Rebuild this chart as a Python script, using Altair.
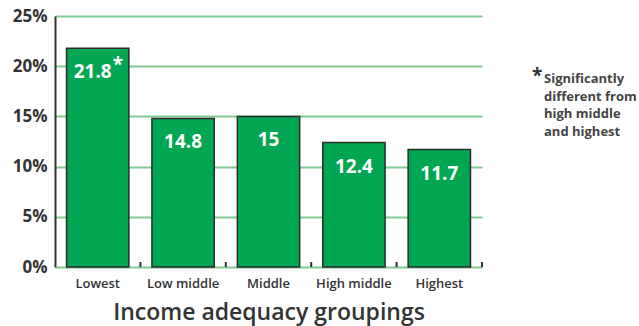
import altair as alt
import pandas as pd

# Share of each income adequacy group (percent)
groups = ["Lowest", "Low middle", "Middle", "High middle", "Highest"]
rates = [21.8, 14.8, 15, 12.4, 11.7]
marks = ["*", "", "", "", ""]
y_ticks = [0, 5, 10, 15, 20, 25]
x_title = "Income adequacy groupings"
note_star = "*"
note_lines = ["Significantly", "different from", "high middle", "and highest"]

df = pd.DataFrame({"group": groups, "rate": rates, "mark": marks})
# small separators at the right edge of every category cell
edges_df = pd.DataFrame({"edge": list(range(1, len(groups) + 1)), "lo": 0.0, "hi": 0.5})
note_df = pd.DataFrame({"n": [0]})

FONT = "Open Sans"
INK = "#333333"
BAR = "#00a651"
GRID = "#80cb94"

x = alt.X(
    "group:N",
    sort=groups,
    title=x_title,
    scale=alt.Scale(paddingInner=0.27, paddingOuter=0.135),
    axis=alt.Axis(
        labelAngle=0,
        domain=False,
        grid=False,
        ticks=False,
        labelPadding=10,
        labelFont=FONT,
        labelFontSize=13,
        labelFontWeight=600,
        labelColor=INK,
        titleFont=FONT,
        titleFontSize=23,
        titleFontWeight=600,
        titleColor=INK,
        titlePadding=11,
    ),
)
y = alt.Y(
    "rate:Q",
    title=None,
    scale=alt.Scale(domain=[0, 25], nice=False),
    axis=alt.Axis(
        values=y_ticks,
        labelExpr="datum.value + '%'",
        ticks=False,
        domainColor=INK,
        domainWidth=2,
        gridColor=GRID,
        gridWidth=2,
        gridOpacity=1,
        labelPadding=8,
        labelFont=FONT,
        labelFontSize=17,
        labelFontWeight="bold",
        labelColor=INK,
    ),
)
x_plain = alt.X("group:N", sort=groups)

base = alt.Chart(df)

bars = base.mark_bar(color=BAR, stroke="#2b2b2b", strokeWidth=1.5).encode(x=x, y=y)

text_style = dict(font=FONT, fontSize=19, fontWeight="bold", color="white", baseline="alphabetic")

plain_labels = base.transform_filter("datum.mark == ''").mark_text(
    align="center", dy=30, **text_style
).encode(x=x_plain, y="rate:Q", text=alt.Text("rate:Q"))

star_labels = base.transform_filter("datum.mark != ''").mark_text(
    align="center", dx=-5, dy=30, **text_style
).encode(x=x_plain, y="rate:Q", text=alt.Text("rate:Q"))

star_marks = base.transform_filter("datum.mark != ''").mark_text(
    align="left", dx=15, dy=23, **text_style
).encode(x=x_plain, y="rate:Q", text="mark:N")

category_layer = alt.layer(bars, plain_labels, star_labels, star_marks)

separators = alt.Chart(edges_df).mark_rule(color=INK, strokeWidth=2).encode(
    x=alt.X("edge:Q", scale=alt.Scale(domain=[0, len(groups)], nice=False), axis=None),
    y=alt.Y("lo:Q"),
    y2="hi:Q",
)

note_asterisk = alt.Chart(note_df).mark_text(
    text=note_star, font=FONT, fontSize=19, fontWeight="bold", color="#333333",
    align="left", baseline="alphabetic",
).encode(x=alt.value(477), y=alt.value(66))

note_text = alt.Chart(note_df).mark_text(
    text=note_lines, font=FONT, fontSize=13, fontWeight="bold", color="#444444",
    align="left", baseline="alphabetic", lineHeight=17.6,
).encode(x=alt.value(489), y=alt.value(67))

chart = (
    alt.layer(category_layer, separators, note_asterisk, note_text)
    .resolve_scale(x="independent")
    .properties(
        width=427,
        height=251,
        autosize="none",
        padding={"left": 55, "top": 16, "right": 157, "bottom": 59},
    )
    .configure_view(stroke=None)
)

chart.save("out.html", embed_options={"renderer": "svg", "actions": False})
